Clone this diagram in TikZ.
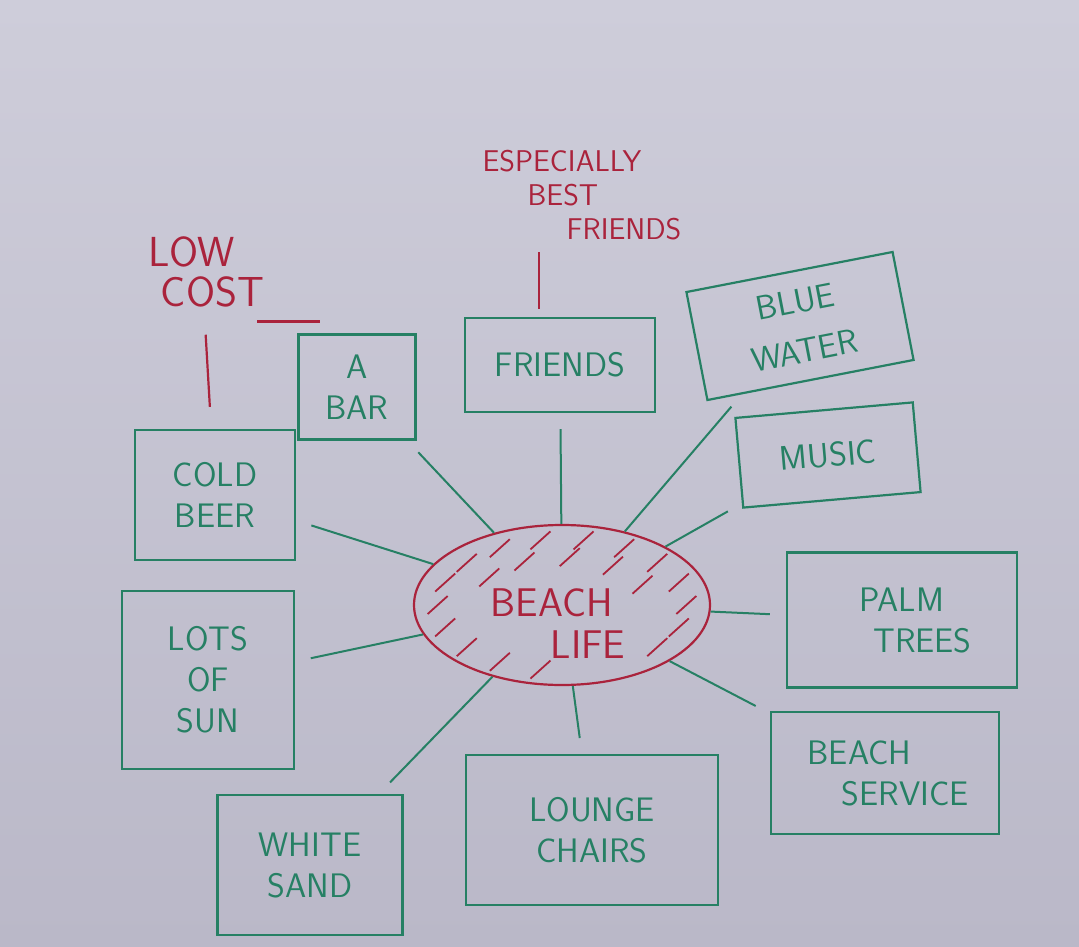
\documentclass[tikz,border=0pt]{standalone}
\usepackage{xcolor}
\usepackage{tikz}
\usetikzlibrary{positioning, shapes.geometric, calc}
\definecolor{bbGreen}{RGB}{38, 128, 100}
\definecolor{bbRed}{RGB}{170, 35, 60}
\definecolor{bbBoard}{RGB}{206, 205, 218}
\definecolor{bbShade}{RGB}{186, 184, 200}
\tikzset{
    base/.style={
        font=\sffamily\fontsize{34}{41}\selectfont,
        align=center
    },
    topic/.style={
        base,
        rectangle,
        draw=bbGreen,
        line width=2.2pt,
        text=bbGreen,
        inner sep=2pt
    },
    hub/.style={
        ellipse,
        draw=bbRed,
        line width=2.2pt,
        inner sep=0pt,
        minimum width=296pt,
        minimum height=160pt
    },
    hubtext/.style={
        base,
        text=bbRed,
        align=left,
        font=\sffamily\fontsize{40}{42}\selectfont
    },
    link/.style={
        draw=bbGreen,
        line width=2pt,
        shorten >=16pt
    },
    note/.style={
        base,
        text=bbRed,
        font=\sffamily\fontsize{30}{34}\selectfont
    },
    notelink/.style={
        draw=bbRed,
        line width=2.2pt
    },
    hatch/.style={
        draw=bbRed,
        line width=1.8pt
    }
}

\begin{document}
\begin{tikzpicture}[x=1pt, y=-1pt]
    % Whiteboard
    \shade[top color=bbBoard, bottom color=bbShade] (0,0) rectangle (1079,947);
    \useasboundingbox (0,0) rectangle (1079,947);

    % Central idea
    \node[hub] (life) at (562,605) {};
    \node[hubtext] (lifetext) at (558,624) {BEACH\\\hspace*{1.5em}LIFE};
    \foreach \a in {0,20,40,100,120,...,340}
        \draw[hatch] ($(life)+({0.84*148*cos(\a)},{0.82*80*sin(\a)})$) +(-10,9) -- +(10,-9);
    \foreach \a in {215,245,...,335}
        \draw[hatch] ($(life)+({0.6*148*cos(\a)},{0.6*80*sin(\a)})$) +(-10,9) -- +(10,-9);

    % Topics
    \node[topic, minimum width=117pt, minimum height=105pt] (bar) at (357,387) {A\\BAR};
    \node[topic, minimum width=160pt, minimum height=130pt] (beer) at (215,495) {COLD\\BEER};
    \node[topic, minimum width=190pt, minimum height=94pt] (friends) at (560,365) {FRIENDS};
    \node[topic, minimum width=210pt, minimum height=110pt, rotate=11,
        font=\sffamily\fontsize{34}{50}\selectfont] (water) at (800,326) {BLUE\\WATER};
    \node[topic, minimum width=178pt, minimum height=90pt, rotate=5] (music) at (828,455) {MUSIC};
    \node[topic, minimum width=230pt, minimum height=135pt] (palm) at (902,620) {PALM\\\hspace*{1.2em}TREES};
    \node[topic, minimum width=228pt, minimum height=122pt] (service) at (885,773) {BEACH\hspace*{1.5em}\\\hspace*{1.2em}SERVICE};
    \node[topic, minimum width=252pt, minimum height=150pt] (lounge) at (592,830) {LOUNGE\\CHAIRS};
    \node[topic, minimum width=185pt, minimum height=140pt] (sand) at (310,865) {WHITE\\SAND};
    \node[topic, minimum width=172pt, minimum height=178pt] (sun) at (208,680) {LOTS\\OF\\SUN};

    % Spokes
    \foreach \t in {bar, beer, friends, water, music, palm, service, lounge, sand, sun}
        \draw[link] (life) -- (\t);

    % Notes
    \node[note, font=\sffamily\fontsize{42}{40}\selectfont] (cost) at (202,272) {LOW\hspace*{0.5em}\\\hspace*{0.5em}COST};
    \draw[notelink, shorten <=24pt, shorten >=22pt] (cost) -- (beer);
    \draw[notelink] ([xshift=-100pt,yshift=12pt]bar.north) -- ([xshift=-37pt,yshift=12pt]bar.north);
    \node[note, align=left] (best) at (582,195) {ESPECIALLY\\\hspace*{1.5em}BEST\\\hspace*{2.8em}FRIENDS};
    \draw[notelink] ([xshift=-21pt,yshift=8pt]friends.north) -- ([xshift=-21pt,yshift=65pt]friends.north);
\end{tikzpicture}
\end{document}
